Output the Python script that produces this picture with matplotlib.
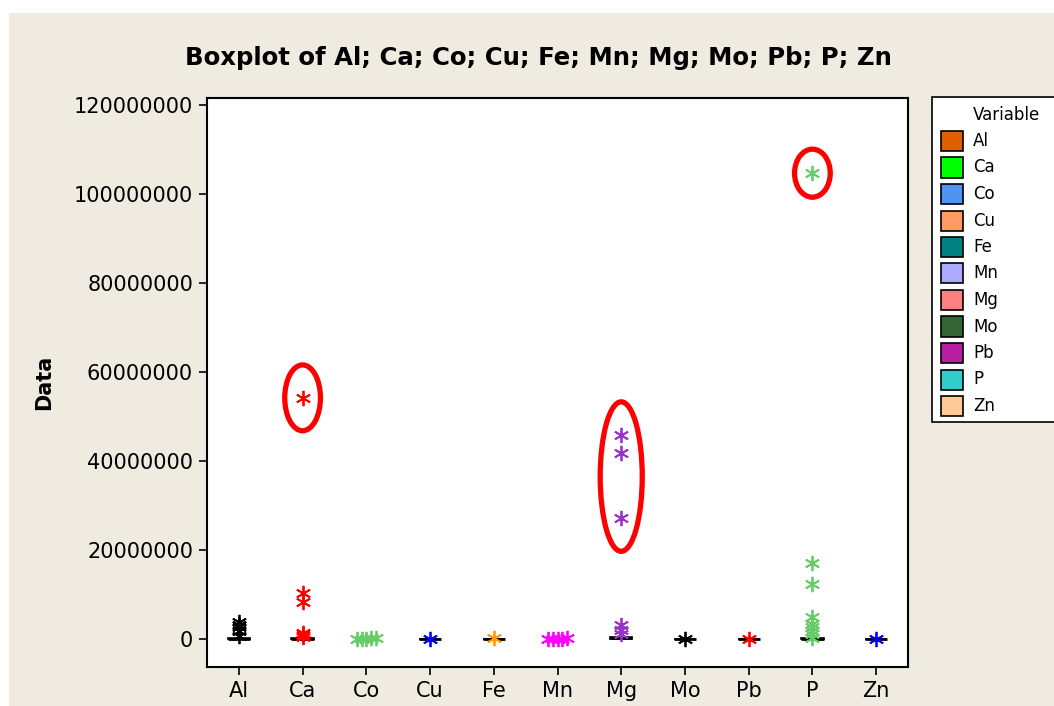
import numpy as np
import matplotlib.pyplot as plt
from matplotlib.patches import Ellipse, Rectangle

variables = ["Al", "Ca", "Co", "Cu", "Fe", "Mn", "Mg", "Mo", "Pb", "P", "Zn"]

# box statistics (q1, median, q3, low whisker, high whisker)
q1 = [20000, 30000, 2000, 1000, 5000, 3000, 50000, 1000, 1000, 20000, 2000]
med = [60000, 80000, 5000, 3000, 15000, 8000, 150000, 3000, 2000, 60000, 6000]
q3 = [150000, 200000, 10000, 8000, 40000, 15000, 350000, 8000, 5000, 150000, 12000]
whis_lo = [1000, 2000, 500, 200, 1000, 500, 5000, 200, 100, 2000, 500]
whis_hi = [350000, 450000, 25000, 20000, 90000, 35000, 800000, 20000, 12000, 350000, 30000]

# outliers
fliers = {
    "Al": [3.8e6, 3.2e6, 2.6e6, 1.8e6, 0.6e6],
    "Ca": [54.2e6, 10.3e6, 8.4e6, 1.4e6, 0.9e6, 0.4e6],
    "Co": [0.10e6, 0.12e6, 0.08e6, 0.14e6, 0.06e6],
    "Cu": [0.05e6],
    "Fe": [0.2e6],
    "Mn": [0.05e6, 0.07e6, 0.09e6, 0.11e6, 0.06e6],
    "Mg": [45.8e6, 41.8e6, 27.2e6, 3.1e6, 2.0e6, 1.1e6],
    "Mo": [0.05e6],
    "Pb": [0.03e6],
    "P": [104.7e6, 17.1e6, 12.4e6, 4.9e6, 3.3e6, 2.6e6, 1.9e6, 1.2e6, 0.3e6],
    "Zn": [0.05e6],
}

flier_colors = ["black", "#ff0000", "#66cc66", "#0000ff", "#ff9900", "#ff00ff",
                "#9933cc", "black", "#ff0000", "#66cc66", "#0000ff"]
legend_colors = ["#e06000", "#00ff00", "#4f94f0", "#ff9966", "#008080", "#aaaaff",
                 "#ff8080", "#336633", "#b81fa0", "#33cccc", "#ffcc99"]

# highlighted outliers (group, low value, high value)
circled = [("Ca", 54.2e6, 54.2e6), ("Mg", 27.2e6, 45.8e6), ("P", 104.7e6, 104.7e6)]
circle_pad = {"Ca": 14.8e6, "Mg": 15e6, "P": 10.8e6}

W, H = 1054, 706
bg = "#efebe1"
fig = plt.figure(figsize=(W / 100, H / 100), dpi=100, facecolor="white")
fig.patches.append(Rectangle((9 / W, 0), 1, 1 - 13 / H, transform=fig.transFigure,
                             facecolor=bg, edgecolor="none", zorder=-10))
ax = fig.add_axes([207 / W, 39 / H, 701 / W, 569 / H])
ax.set_facecolor("white")

stats = []
for i, v in enumerate(variables):
    stats.append(dict(label=v, q1=q1[i], med=med[i], q3=q3[i],
                      whislo=whis_lo[i], whishi=whis_hi[i], fliers=[]))
pos = np.arange(1, len(variables) + 1)
bp = ax.bxp(stats, positions=pos, widths=0.35, showfliers=False, patch_artist=True,
            medianprops=dict(color="black", lw=2),
            whiskerprops=dict(color="black", lw=1),
            capprops=dict(color="black", lw=0),
            boxprops=dict(edgecolor="black", lw=1.2))
for patch, c in zip(bp["boxes"], legend_colors):
    patch.set_facecolor(c)

# outliers, overlapping ones are spread sideways
for i, v in enumerate(variables):
    vals = np.sort(np.array(fliers[v]))
    groups = [[vals[0]]]
    for val in vals[1:]:
        if val - groups[-1][-1] < 0.3e6:
            groups[-1].append(val)
        else:
            groups.append([val])
    for g in groups:
        n = len(g)
        offs = (np.arange(n) - (n - 1) / 2) * 0.075
        ax.plot(pos[i] + offs, g, ls="none", marker=(6, 2, 0), ms=11, mew=1.3,
                color=flier_colors[i], zorder=5)

for name, lo, hi in circled:
    i = variables.index(name)
    e = Ellipse((pos[i], (lo + hi) / 2), 0.56 if name != "Mg" else 0.66,
                hi - lo + circle_pad[name], fill=False, edgecolor="#ff0000", lw=3.8, zorder=6)
    ax.add_patch(e)

ax.set_xlim(0.5, 11.5)
ax.set_ylim(-6.3e6, 121.6e6)
ax.set_yticks(np.arange(0, 120000001, 20000000))
ax.set_yticklabels([str(t) for t in range(0, 120000001, 20000000)])
ax.set_xticks(pos)
ax.set_xticklabels(variables)
ax.tick_params(direction="out", length=6, width=1.2, labelsize=15, pad=4)
for s in ax.spines.values():
    s.set_linewidth(1.5)

ax.set_ylabel("Data", fontsize=15, fontweight="bold", labelpad=14)
fig.text(538 / W, 1 - 58 / H, "Boxplot of Al; Ca; Co; Cu; Fe; Mn; Mg; Mo; Pb; P; Zn",
         ha="center", va="center", fontsize=17.6, fontweight="bold")

# legend box, drawn by hand so it runs off the right edge like the original
fig.patches.append(Rectangle((932 / W, 1 - 422 / H), 140 / W, 325 / H, transform=fig.transFigure,
                             facecolor="white", edgecolor="black", lw=1.2, zorder=1))
fig.text(973 / W, 1 - 115 / H, "Variable", fontsize=12, va="center", ha="left")
for k, (v, c) in enumerate(zip(variables, legend_colors)):
    yc = 141 + k * 26.5
    fig.patches.append(Rectangle((941 / W, 1 - (yc + 10) / H), 22 / W, 20 / H,
                                 transform=fig.transFigure, facecolor=c,
                                 edgecolor="black", lw=1.2, zorder=2))
    fig.text(973 / W, 1 - yc / H, v, fontsize=12, va="center", ha="left")

fig.savefig("out.png", dpi=100, facecolor=fig.get_facecolor())
